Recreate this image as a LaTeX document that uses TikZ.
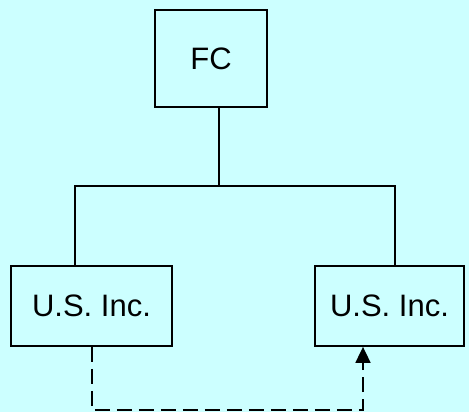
\documentclass[tikz,border=0pt]{standalone}
\usepackage{fontspec}
\setmainfont{Liberation Sans}
\usetikzlibrary{arrows.meta}
\definecolor{bgc}{HTML}{CCFFFF}
\begin{document}
\begin{tikzpicture}[x=1pt,y=1pt,
  box/.style={draw=black, line width=1.8pt, inner sep=0pt, font=\fontsize{31}{31}\selectfont},
  conn/.style={line width=1.8pt},
  dconn/.style={line width=1.8pt, dash pattern=on 15pt off 7pt, -{Triangle[length=16pt,width=15pt]}}]
\fill[bgc] (0,0) rectangle (469,412);
\useasboundingbox (0,0) rectangle (469,412);
\node[box, minimum width=112pt, minimum height=97pt] (fc) at (211,353.5) {FC};
\node[box, minimum width=161pt, minimum height=80pt] (l) at (91.5,106) {U.S. Inc.};
\node[box, minimum width=149pt, minimum height=80pt] (r) at (389.5,106) {U.S. Inc.};
\coordinate (j) at (219,226);
\draw[conn] (fc.south -| j) -- (j);
\draw[conn] (l.north -| 75,0) |- (j) -| (r.north -| 395,0);
\draw[dconn] (l.south -| 92,0) -- (92,2) -| (r.south -| 363,0);
\end{tikzpicture}
\end{document}
